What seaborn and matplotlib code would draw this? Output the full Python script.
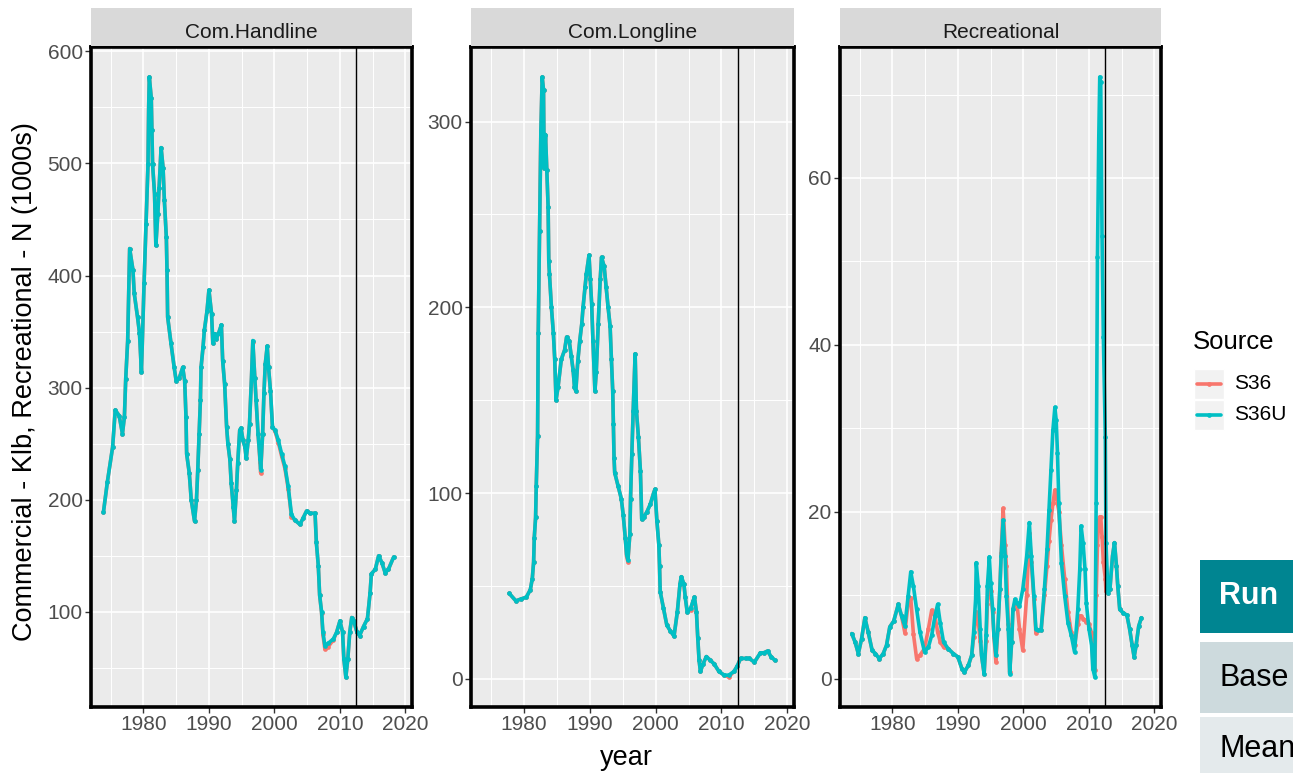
import matplotlib
matplotlib.use("Agg")
import matplotlib.pyplot as plt
from matplotlib.lines import Line2D
from matplotlib.patches import Rectangle
from matplotlib.ticker import MultipleLocator
import numpy as np
import pandas as pd
import seaborn as sns

# ---------------------------------------------------------------- data
panels = ["Com.Handline", "Com.Longline", "Recreational"]
sources = ["S36", "S36U"]
colors = {"S36": "#F8766D", "S36U": "#00BFC4"}
ref_year = 2012.5

hl_year = [1973.9, 1974.5, 1975.3, 1975.7, 1976.3, 1976.8, 1977.1, 1977.3, 1977.6, 1977.9,
           1978.4, 1978.6, 1979.1, 1979.4, 1979.7, 1980.1, 1980.4, 1980.7, 1980.8, 1980.9,
           1981.2, 1981.3, 1981.4, 1981.7, 1981.9, 1982.2, 1982.4, 1982.7, 1983.0, 1983.2,
           1983.5, 1983.6, 1983.7, 1984.2, 1984.7, 1985.0, 1985.5, 1986.0, 1986.3, 1986.5,
           1986.6, 1987.0, 1987.3, 1987.8, 1988.1, 1988.3, 1988.5, 1988.7, 1988.8, 1989.1,
           1989.3, 1989.7, 1990.0, 1990.4, 1990.6, 1990.9, 1991.1, 1991.5, 1991.9, 1992.1,
           1992.4, 1992.7, 1992.9, 1993.2, 1993.4, 1993.7, 1993.9, 1994.2, 1994.4, 1994.7,
           1994.9, 1995.2, 1995.5, 1995.7, 1996.0, 1996.2, 1996.5, 1996.7, 1997.0, 1997.2,
           1997.5, 1997.8, 1997.9, 1998.2, 1998.4, 1998.6, 1998.9, 1999.1, 1999.4, 1999.7,
           2000.1, 2000.6, 2001.1, 2001.6, 2002.1, 2002.6, 2003.1, 2003.9, 2004.4, 2004.9,
           2005.4, 2006.2, 2006.4, 2006.7, 2006.9, 2007.2, 2007.4, 2007.7, 2008.2, 2009.0,
           2009.5, 2010.0, 2010.4, 2010.6, 2010.9, 2011.2, 2011.5, 2011.8, 2012.1, 2012.6,
           2013.0, 2013.6, 2014.2, 2014.6, 2014.8, 2015.4, 2015.9, 2016.4, 2016.9, 2017.4,
           2018.2]
hl_s36u = [189, 216, 247, 280, 275, 259, 274, 308, 342, 424,
           405, 384, 363, 349, 314, 393, 446, 499, 549, 577,
           558, 530, 499, 473, 427, 455, 478, 514, 496, 467,
           434, 405, 363, 340, 318, 306, 309, 318, 306, 274,
           241, 224, 200, 181, 200, 227, 259, 289, 318, 336,
           351, 368, 387, 366, 340, 348, 343, 349, 356, 324,
           303, 265, 250, 236, 215, 194, 181, 209, 233, 262,
           264, 253, 247, 237, 253, 268, 309, 342, 309, 289,
           259, 236, 227, 259, 295, 321, 337, 318, 297, 265,
           262, 253, 241, 230, 212, 187, 182, 178, 184, 190,
           188, 188, 162, 141, 115, 100, 82, 70, 72, 76,
           82, 92, 82, 58, 42, 58, 82, 95, 92, 82,
           79, 87, 94, 117, 134, 138, 150, 144, 135, 138,
           149]
hl_s36 = [189, 216, 247, 280, 275, 259, 274, 308, 342, 424,
          405, 384, 363, 349, 314, 393, 446, 499, 549, 577,
          558, 530, 499, 473, 427, 455, 478, 514, 496, 467,
          434, 405, 363, 340, 318, 306, 309, 318, 306, 274,
          241, 224, 200, 181, 200, 227, 259, 289, 318, 336,
          351, 368, 387, 366, 340, 348, 343, 349, 356, 324,
          303, 265, 250, 236, 215, 194, 181, 209, 233, 262,
          264, 253, 247, 237, 253, 268, 309, 341, 309, 289,
          259, 234, 224, 259, 295, 321, 337, 318, 297, 265,
          261, 251, 239, 228, 210, 185, 182, 178, 184, 190,
          188, 188, 162, 141, 115, 99, 80, 67, 69, 75,
          82, 92, 82, 58, 42, 58, 82, 95, 92, 82,
          79, 87, 94, 117, 134, 138, 150, 144, 135, 138,
          149]

ll_year = [1977.8, 1978.8, 1979.6, 1980.4, 1981.0, 1981.3, 1981.5, 1981.6, 1981.8, 1981.9,
           1982.1, 1982.2, 1982.4, 1982.6, 1982.8, 1983.0, 1983.1, 1983.3, 1983.5, 1983.7,
           1983.8, 1983.9, 1984.2, 1984.5, 1984.7, 1984.9, 1985.2, 1985.7, 1986.2, 1986.5,
           1986.9, 1987.2, 1987.5, 1987.7, 1987.9, 1988.2, 1988.5, 1988.8, 1989.0, 1989.3,
           1989.5, 1989.9, 1990.1, 1990.3, 1990.5, 1990.8, 1991.0, 1991.3, 1991.6, 1991.8,
           1992.2, 1992.5, 1992.8, 1993.1, 1993.3, 1993.5, 1993.6, 1993.7, 1993.8, 1994.3,
           1994.8, 1995.1, 1995.4, 1995.6, 1995.8, 1996.1, 1996.2, 1996.4, 1996.6, 1996.9,
           1997.1, 1997.4, 1997.7, 1997.9, 1998.2, 1998.7, 1999.2, 1999.7, 1999.9, 2000.2,
           2000.5, 2000.6, 2000.7, 2001.2, 2001.7, 2002.2, 2002.8, 2003.3, 2003.7, 2003.9,
           2004.3, 2004.5, 2004.8, 2005.3, 2005.7, 2005.9, 2006.2, 2006.4, 2006.6, 2006.8,
           2007.2, 2007.7, 2008.3, 2008.9, 2009.6, 2010.4, 2011.1, 2011.9, 2012.4, 2012.9,
           2013.7, 2014.2, 2015.0, 2015.9, 2016.4, 2017.0, 2017.5, 2018.1]
ll_s36u = [46, 42, 43, 44, 48, 54, 63, 76, 87, 104,
           131, 186, 241, 295, 324, 317, 275, 293, 274, 254,
           225, 218, 200, 186, 172, 150, 157, 172, 177, 184,
           182, 174, 166, 157, 155, 171, 182, 191, 200, 211,
           218, 228, 215, 202, 182, 155, 165, 191, 215, 227,
           222, 211, 200, 190, 172, 155, 137, 119, 111, 104,
           97, 88, 76, 67, 64, 78, 97, 121, 144, 175,
           144, 130, 112, 86, 87, 90, 94, 100, 102, 85,
           72, 61, 47, 38, 29, 26, 23, 36, 51, 55,
           51, 44, 36, 38, 42, 44, 36, 22, 10, 4,
           8, 12, 10, 8, 4, 2, 2, 4, 7, 11,
           11, 11, 9, 14, 14, 15, 12, 10]
ll_s36 = [46, 42, 43, 44, 48, 54, 63, 76, 87, 104,
          131, 186, 241, 295, 324, 317, 275, 293, 274, 254,
          225, 218, 200, 186, 172, 150, 157, 172, 177, 184,
          182, 174, 166, 157, 155, 171, 182, 191, 200, 211,
          218, 228, 215, 202, 182, 155, 165, 191, 215, 227,
          222, 211, 200, 190, 172, 155, 137, 119, 111, 104,
          97, 88, 76, 66, 63, 78, 97, 121, 144, 175,
          144, 130, 112, 86, 87, 90, 94, 100, 102, 85,
          72, 61, 47, 38, 29, 26, 23, 36, 51, 55,
          51, 44, 36, 37, 42, 44, 36, 22, 10, 4,
          8, 12, 10, 8, 4, 2, 1, 4, 7, 11,
          11, 11, 9, 14, 14, 15, 12, 10]

rec_year = [1973.8, 1974.3, 1974.8, 1975.3, 1975.8, 1976.3, 1976.9, 1977.4, 1978.0, 1978.6,
            1979.1, 1979.6, 1980.2, 1980.9, 1981.4, 1981.9, 1982.4, 1982.8, 1983.2, 1983.7,
            1984.2, 1984.9, 1985.5, 1986.0, 1986.5, 1986.9, 1987.3, 1987.8, 1988.5, 1989.3,
            1990.0, 1990.6, 1991.0, 1991.6, 1992.1, 1992.4, 1992.7, 1992.8, 1993.1, 1993.4,
            1993.6, 1994.0, 1994.3, 1994.5, 1994.8, 1995.0, 1995.3, 1995.5, 1995.8, 1996.1,
            1996.4, 1996.6, 1996.9, 1997.2, 1997.4, 1997.7, 1997.9, 1998.2, 1998.4, 1998.7,
            1999.0, 1999.4, 1999.9, 2000.5, 2000.9, 2001.2, 2001.6, 2001.9, 2002.2, 2002.7,
            2003.2, 2003.6, 2003.9, 2004.2, 2004.5, 2004.8, 2005.0, 2005.2, 2005.4, 2005.8,
            2006.3, 2006.8, 2007.3, 2007.8, 2008.3, 2008.6, 2008.8, 2009.1, 2009.4, 2009.6,
            2010.0, 2010.4, 2010.6, 2010.9, 2011.1, 2011.3, 2011.5, 2011.65, 2011.8, 2012.0,
            2012.2, 2012.5, 2012.6, 2012.9, 2013.2, 2013.6, 2013.9, 2014.2, 2014.4, 2014.7,
            2015.2, 2015.8, 2016.2, 2016.6, 2016.9, 2017.2, 2017.6, 2018.0]
rec_s36u = [5.4, 4.4, 3.0, 4.8, 7.3, 5.6, 3.4, 3.0, 2.4, 3.0,
            4.0, 6.2, 6.9, 8.9, 7.5, 6.3, 9.9, 12.8, 11.1, 8.3,
            5.6, 3.2, 3.8, 5.2, 7.5, 8.9, 6.7, 4.4, 3.6, 3.0,
            2.6, 1.2, 0.8, 1.6, 2.8, 5.6, 9.5, 13.9, 11.1, 6.0,
            2.8, 0.6, 5.2, 11.1, 14.6, 11.5, 8.3, 5.2, 2.8, 6.0,
            10.7, 14.7, 19.0, 14.7, 9.9, 6.0, 0.6, 4.4, 8.3, 9.5,
            9.1, 8.7, 10.7, 14.7, 18.7, 14.7, 9.9, 6.0, 5.8, 5.8,
            10.7, 15.5, 20.2, 25.0, 29.8, 32.5, 31.0, 27.0, 21.0, 13.9,
            9.9, 6.7, 5.2, 3.2, 8.3, 13.1, 18.3, 16.3, 13.1, 9.1,
            6.0, 4.0, 1.2, 0.2, 21.0, 50.5, 64.8, 72.1, 71.5, 53.0,
            41.0, 29.0, 16.3, 10.3, 10.7, 14.7, 16.3, 13.5, 11.1, 8.3,
            7.9, 7.6, 6.0, 4.0, 2.6, 4.0, 6.3, 7.3]
rec_s36 = [5.4, 4.4, 3.0, 4.8, 7.3, 5.6, 3.4, 3.0, 2.4, 3.0,
           4.0, 6.2, 6.9, 8.9, 7.5, 5.5, 9.1, 9.7, 5.4, 2.4,
           2.8, 3.6, 6.0, 8.2, 7.5, 5.6, 4.4, 3.8, 3.6, 3.0,
           2.6, 1.2, 0.8, 1.6, 2.8, 5.0, 7.0, 8.0, 7.0, 4.5,
           2.8, 0.6, 4.5, 9.0, 12.0, 10.5, 8.0, 5.0, 2.0, 6.0,
           10.7, 15.0, 20.4, 16.0, 13.5, 6.5, 0.8, 4.4, 8.3, 9.0,
           9.1, 6.0, 3.4, 10.0, 17.5, 14.0, 9.5, 5.5, 5.8, 5.8,
           10.0, 13.5, 16.5, 19.0, 21.0, 22.6, 22.0, 21.0, 20.0, 16.0,
           12.0, 8.0, 5.6, 4.0, 6.5, 7.5, 7.5, 7.2, 7.0, 6.8,
           6.5, 5.5, 2.0, 1.0, 10.0, 16.0, 19.0, 19.4, 19.4, 17.0,
           14.0, 12.0, 10.5, 10.3, 10.7, 14.7, 16.3, 13.5, 11.1, 8.3,
           7.9, 7.6, 6.0, 4.0, 2.6, 4.0, 6.3, 7.3]

series = {
    "Com.Handline": (hl_year, {"S36": hl_s36, "S36U": hl_s36u}),
    "Com.Longline": (ll_year, {"S36": ll_s36, "S36U": ll_s36u}),
    "Recreational": (rec_year, {"S36": rec_s36, "S36U": rec_s36u}),
}

frames = []
for fleet, (yrs, vals) in series.items():
    for src in sources:
        frames.append(pd.DataFrame({"fleet": fleet, "year": yrs, "value": vals[src], "Source": src}))
df = pd.concat(frames, ignore_index=True)

y_major = {"Com.Handline": 100, "Com.Longline": 100, "Recreational": 20}

# ---------------------------------------------------------------- style
sns.set_theme(style="darkgrid")
plt.rcParams["font.family"] = ["Liberation Sans", "DejaVu Sans"]

W, H = 1293, 773
fig = plt.figure(figsize=(W / 100, H / 100), dpi=100)
fig.patch.set_facecolor("white")


def fx(px):
    return px / W


def fy(py):
    return 1 - py / H


panel_x = [(91, 412), (471, 794), (840, 1161)]
top, bottom = 47, 707
strip_top = 8
xlim = (1972.0, 2021.0)

for fleet, (x0, x1) in zip(panels, panel_x):
    ax = fig.add_axes([fx(x0), fy(bottom), fx(x1) - fx(x0), (bottom - top) / H])
    ax.set_facecolor("#EBEBEB")
    sub = df[df["fleet"] == fleet]
    sns.lineplot(data=sub, x="year", y="value", hue="Source", hue_order=sources,
                 palette=colors, estimator=None, errorbar=None, sort=True,
                 marker="o", markersize=3.4, markeredgewidth=0, linewidth=2.6,
                 legend=False, ax=ax, zorder=3)
    ax.axvline(ref_year, color="black", linewidth=1.0, zorder=4)

    vmin, vmax = sub["value"].min(), sub["value"].max()
    pad = 0.05 * (vmax - vmin)
    ax.set_ylim(vmin - pad, vmax + pad)
    ax.set_xlim(*xlim)

    ax.xaxis.set_major_locator(MultipleLocator(10))
    ax.xaxis.set_minor_locator(MultipleLocator(5))
    ax.yaxis.set_major_locator(MultipleLocator(y_major[fleet]))
    ax.yaxis.set_minor_locator(MultipleLocator(y_major[fleet] / 2))
    ax.grid(which="major", color="white", linewidth=1.2)
    ax.grid(which="minor", color="white", linewidth=0.7)
    ax.set_axisbelow(True)
    ax.tick_params(which="major", direction="out", length=4, width=1.0, color="#333333",
                   labelsize=15, labelcolor="#4D4D4D", pad=2,
                   bottom=True, left=True)
    ax.tick_params(which="minor", length=0)
    ax.set_xlabel("")
    ax.set_ylabel("")
    for sp in ax.spines.values():
        sp.set_visible(True)
        sp.set_color("black")
        sp.set_linewidth(2.6)
        sp.set_zorder(5)

    # facet strip
    sax = fig.add_axes([fx(x0), fy(top - 1), fx(x1) - fx(x0), (top - 1 - strip_top) / H])
    sax.set_facecolor("#D9D9D9")
    sax.set_xticks([])
    sax.set_yticks([])
    for sp in sax.spines.values():
        sp.set_visible(False)
    sax.grid(False)
    fig.text(fx((x0 + x1) / 2), fy(37.5), fleet, ha="center", va="baseline",
             fontsize=15, color="#1A1A1A")

# axis titles
fig.text(fx(25), fy(382), "Commercial - Klb, Recreational - N (1000s)", rotation=90,
         ha="center", va="center", fontsize=19.5, color="black")
fig.text(fx(626), fy(758), "year", ha="center", va="center", fontsize=19.5, color="black")

# legend
fig.text(fx(1193), fy(342), "Source", ha="left", va="center", fontsize=18.5, color="black")
for i, src in enumerate(sources):
    yc = 384 + i * 30.5
    fig.patches.append(Rectangle((fx(1194), fy(yc + 15)), fx(30), 30 / H,
                                 transform=fig.transFigure, facecolor="#F2F2F2",
                                 edgecolor="white", linewidth=1.0))
    fig.add_artist(Line2D([fx(1197), fx(1221)], [fy(yc), fy(yc)], color=colors[src],
                          linewidth=2.6, transform=fig.transFigure))
    fig.add_artist(Line2D([fx(1209)], [fy(yc)], color=colors[src], marker="o",
                          markersize=3.4, markeredgewidth=0, transform=fig.transFigure))
    fig.text(fx(1234), fy(yc), src, ha="left", va="center", fontsize=15, color="black")

# action buttons
buttons = [("Run", 560, 633, "#008591", "white", "bold"),
           ("Base", 642, 713, "#CDDADD", "black", "normal"),
           ("Mean", 717, 773, "#E4EAEC", "black", "normal")]
for label, b0, b1, fc, tc, wt in buttons:
    fig.patches.append(Rectangle((fx(1200), fy(b1)), fx(W - 1200), (b1 - b0) / H,
                                 transform=fig.transFigure, facecolor=fc, edgecolor="none"))
    fig.text(fx(1219), fy((b0 + b1) / 2 + (0 if label != "Mean" else 4)), label,
             ha="left", va="center", fontsize=22, color=tc, fontweight=wt)

fig.savefig("out.png", dpi=100)
